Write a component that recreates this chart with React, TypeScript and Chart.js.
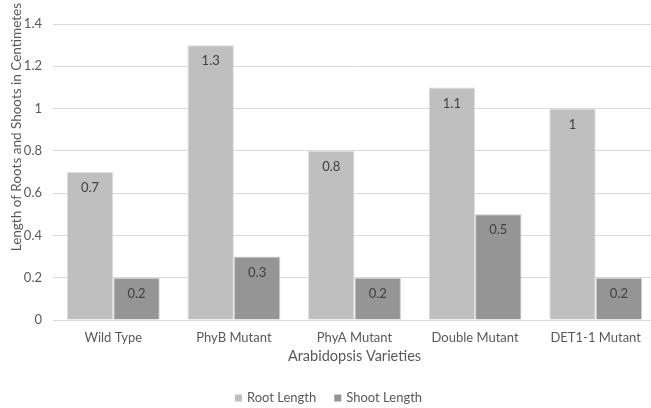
import React, { useEffect, useRef } from "react";
import { Chart, registerables } from "chart.js";

Chart.register(...registerables);

const categories = ["Wild Type", "PhyB Mutant", "PhyA Mutant", "Double Mutant", "DET1-1 Mutant"];
const rootLength = [0.7, 1.3, 0.8, 1.1, 1.0];
const shootLength = [0.2, 0.3, 0.2, 0.5, 0.2];
const seriesNames = ["Root Length", "Shoot Length"];
const yTitle = "Length of Roots and Shoots in Centimetes";
const xTitle = "Arabidopsis Varieties";

const FONT = "Lato, 'Open Sans', sans-serif";
const TEXT = "#595959";

const labelPlugin = {
  id: "barLabels",
  afterDatasetsDraw(chart: any) {
    const ctx = chart.ctx;
    ctx.save();
    ctx.font = `13px ${FONT}`;
    ctx.fillStyle = "#404040";
    ctx.textAlign = "center";
    ctx.textBaseline = "middle";
    chart.data.datasets.forEach((ds: any, di: number) => {
      const meta = chart.getDatasetMeta(di);
      meta.data.forEach((bar: any, i: number) => {
        ctx.fillText(String(ds.data[i]), bar.x, bar.y + 16);
      });
    });
    ctx.restore();
  },
};

const yTitlePlugin = {
  id: "yTitle",
  afterDraw(chart: any) {
    const ctx = chart.ctx;
    ctx.save();
    ctx.font = `13.5px ${FONT}`;
    ctx.fillStyle = TEXT;
    ctx.translate(21, 3);
    ctx.rotate(-Math.PI / 2);
    ctx.textAlign = "right";
    ctx.textBaseline = "alphabetic";
    ctx.fillText(yTitle, 0, 0);
    ctx.restore();
  },
};

const legendPlugin = {
  id: "customLegend",
  afterDraw(chart: any) {
    const ctx = chart.ctx;
    ctx.save();
    ctx.font = `13px ${FONT}`;
    ctx.textBaseline = "middle";
    ctx.textAlign = "left";
    const box = 7;
    const gapText = 5;
    const gapItem = 18;
    const ds = chart.data.datasets;
    const widths = ds.map((d: any) => ctx.measureText(d.label).width);
    let total = 0;
    widths.forEach((w: number, i: number) => {
      total += box + gapText + w + (i < widths.length - 1 ? gapItem : 0);
    });
    const cx = (chart.chartArea.left + chart.chartArea.right) / 2 - 26;
    let x = cx - total / 2;
    const y = 398;
    ds.forEach((d: any, i: number) => {
      ctx.fillStyle = d.backgroundColor;
      ctx.fillRect(x, y - box / 2, box, box);
      x += box + gapText;
      ctx.fillStyle = TEXT;
      ctx.fillText(d.label, x, y);
      x += widths[i] + gapItem;
    });
    ctx.restore();
  },
};

export default function App() {
  const ref = useRef<HTMLCanvasElement>(null);
  useEffect(() => {
    document.body.style.margin = "0";
    const chart = new Chart(ref.current!, {
      type: "bar",
      data: {
        labels: categories,
        datasets: [
          {
            label: seriesNames[0],
            data: rootLength,
            backgroundColor: "#bfbfbf",
            borderColor: "#dedede",
            borderWidth: 1,
            categoryPercentage: 0.77,
            barPercentage: 1.0,
          },
          {
            label: seriesNames[1],
            data: shootLength,
            backgroundColor: "#959595",
            borderColor: "#cfcfcf",
            borderWidth: 1,
            categoryPercentage: 0.77,
            barPercentage: 1.0,
          },
        ],
      },
      options: {
        animation: false,
        responsive: false,
        maintainAspectRatio: false,
        layout: { padding: { left: 0, right: 1, top: 24, bottom: 20 } },
        plugins: {
          legend: { display: false },
          tooltip: { enabled: false },
        },
        scales: {
          x: {
            grid: { display: false, drawTicks: false },
            border: { color: "#d9d9d9" },
            ticks: { color: TEXT, font: { family: FONT, size: 13 }, padding: 10 },
            title: {
              display: true,
              text: xTitle,
              color: TEXT,
              font: { family: FONT, size: 14.5 },
              padding: { top: 0, bottom: 23 },
            },
            afterFit: (s: any) => {
              s.height = 68;
            },
          },
          y: {
            min: 0,
            max: 1.4,
            grid: { color: "#d9d9d9", drawTicks: false },
            border: { display: false },
            ticks: {
              stepSize: 0.2,
              color: TEXT,
              font: { family: FONT, size: 13 },
              padding: 11,
              callback: (v: any) => String(Math.round(Number(v) * 10) / 10),
            },
            afterFit: (s: any) => {
              s.width = 53;
            },
          },
        },
      },
      plugins: [labelPlugin, yTitlePlugin, legendPlugin],
    });
    return () => chart.destroy();
  }, []);
  return (
    <div style={{ position: "absolute", left: 0, top: 0, width: 651, height: 408, overflow: "hidden" }}>
      <canvas ref={ref} width={657} height={408} />
    </div>
  );
}
